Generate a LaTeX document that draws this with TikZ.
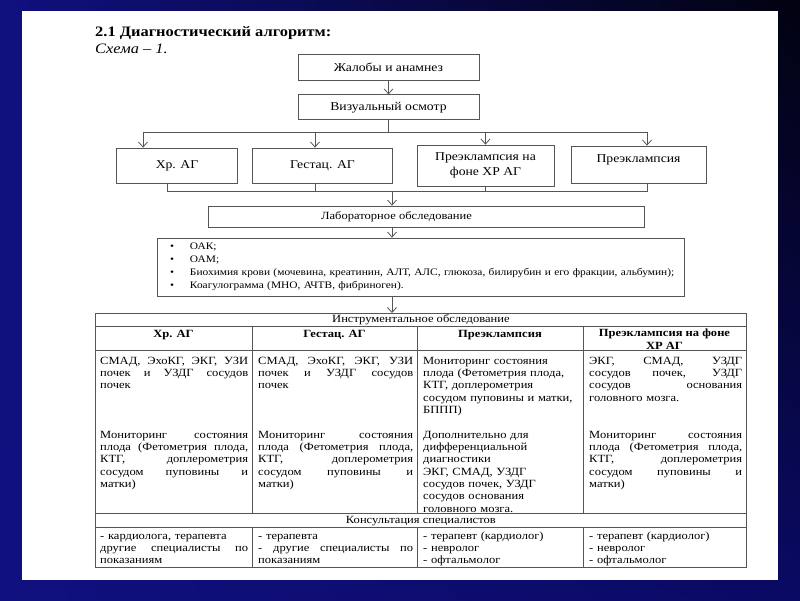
\documentclass[tikz,border=0pt]{standalone}
\usepackage{fontspec}
\setmainfont[FakeStretch=1.14]{Liberation Serif}
\usetikzlibrary{arrows.meta, positioning, shadings}

\definecolor{framegray}{RGB}{85,85,85}
\definecolor{navyleft}{RGB}{16,16,128}
\definecolor{navydark}{RGB}{2,2,16}
\definecolor{navylow}{RGB}{10,10,100}

% one justified line of a table cell
\newlength{\cellwidth}
\newcommand{\jline}[1]{{\spaceskip=0pt\xspaceskip=0pt\makebox[\cellwidth][s]{#1}}}

\begin{document}
\begin{tikzpicture}[
  x=1pt, y=-1pt,
  box/.style={rectangle, draw=framegray, line width=0.8pt, align=center,
             inner sep=2pt, font=\fontsize{12}{15}\selectfont},
  rowbox/.style={rectangle, draw=framegray, line width=0.8pt, inner sep=0pt,
             minimum width=651pt, minimum height=13pt, anchor=north west,
             font=\fontsize{11}{12}\selectfont},
  cell/.style={anchor=north west, text width=#1, text height=8pt, align=left, inner sep=0pt,
             font=\fontsize{11}{12.3}\selectfont,
             execute at begin node={\setlength{\cellwidth}{#1}}},
  headcell/.style={align=center, inner sep=0pt,
             font=\bfseries\fontsize{11}{12.5}\selectfont},
  arrow/.style={-{Straight Barb[length=5pt, width=9pt]}, draw=framegray, line width=0.8pt},
  link/.style={draw=framegray, line width=0.8pt}
]
% slide frame
\shade[upper left=navyleft, lower left=navyleft, upper right=navydark,
       lower right=navylow] (0,0) rectangle (800,600);
\fill[white] (22,11) rectangle (778,580);
\useasboundingbox (0,0) rectangle (800,600);

% heading
\node[anchor=base west, inner sep=0pt, font=\bfseries\fontsize{14.4}{17}\selectfont]
  (title) at (95,36) {2.1 Диагностический алгоритм:};
\node[anchor=base west, inner sep=0pt, font=\itshape\fontsize{14.4}{17}\selectfont]
  (scheme) at (95,53) {Схема – 1.};

% flow part
\node[box, minimum width=181pt, minimum height=26pt] (complaints) at (388.5,67) {Жалобы и анамнез};
\node[box, minimum width=181pt, minimum height=25pt, below=14pt of complaints] (exam) {Визуальный осмотр};

\node[box, minimum width=121pt, minimum height=35pt] (chr) at (177,165.5) {Хр. АГ};
\node[box, minimum width=140pt, minimum height=35pt] (gest) at (322.5,165.5) {Гестац. АГ};
\node[box, minimum width=137pt, minimum height=41pt] (preon) at (485.5,165.5) {Преэклампсия на\\фоне ХР АГ};
\node[box, minimum width=135pt, minimum height=37pt, text depth=12pt] (pre) at (638.5,164.5) {Преэклампсия};

\node[box, minimum width=436pt, minimum height=21pt, font=\fontsize{11}{12}\selectfont]
  (lab) at (426.5,216.5) {Лабораторное обследование\hspace*{60pt}};
\node[box, minimum width=527pt, minimum height=58pt, text width=513pt, align=left,
      inner sep=0pt, font=\fontsize{10}{13}\selectfont] (tests) at (420.5,267) {%
  \hspace*{6pt}\textbullet\hspace{16pt}ОАК;\\
  \hspace*{6pt}\textbullet\hspace{16pt}ОАМ;\\
  \hspace*{6pt}\textbullet\hspace{16pt}Биохимия крови (мочевина, креатинин, АЛТ, АЛС, глюкоза, билирубин и его фракции, альбумин);\\
  \hspace*{6pt}\textbullet\hspace{16pt}Коагулограмма (МНО, АЧТВ, фибриноген).};

\coordinate (split) at (388.5,132);
\coordinate (fork1) at (143,132);
\coordinate (fork4) at (647,132);
\coordinate (join1) at (167,191);
\coordinate (join4) at (647,191);
\coordinate (labin) at (392,191);

\draw[arrow] (complaints) -- (exam);
\draw[link] (exam) -- (split);
\draw[link] (fork1) -- (fork4);
\draw[arrow] (fork1) -- (fork1 |- chr.north);
\draw[arrow] (315,132) -- (315,0 |- gest.north);
\draw[arrow] (preon.north |- split) -- (preon.north);
\draw[arrow] (fork4) -- (fork4 |- pre.north);
\draw[link] (join1 |- chr.south) -- (join1) -- (join4) -- (join4 |- pre.south);
\draw[link] (315,0 |- gest.south) -- (315,191);
\draw[link] (preon.south) -- (preon.south |- join1);
\draw[arrow] (labin) -- (labin |- lab.north);
\draw[arrow] (labin |- lab.south) -- (labin |- tests.north);

% table of instrumental examination
\node[rowbox] (instr) at (95,313) {Инструментальное обследование};
\draw[arrow] (labin |- tests.south) -- (labin |- instr.north);
\draw[link] (instr.south west) rectangle (746,567);
\draw[link] (95,350) -- (746,350);
\node[rowbox, minimum height=14pt, text depth=1pt] (consult) at (95,513) {Консультация специалистов};
\foreach \cx in {252,417,583} {
  \draw[link] (\cx,326) -- (\cx,513);
  \draw[link] (\cx,527) -- (\cx,567);
}

\node[headcell] (hchr) at (173.5,335) {Хр. АГ};
\node[headcell] (hgest) at (334.5,335) {Гестац. АГ};
\node[headcell] (hpre) at (500,335) {Преэклампсия};
\node[headcell] (hpreon) at (664.5,339) {Преэклампсия на фоне\\ХР АГ};

% cells
\node[cell=148pt] (c1a) at (100,356) {\jline{СМАД, ЭхоКГ, ЭКГ, УЗИ}\\\jline{почек и УЗДГ сосудов}\\почек};
\node[cell=148pt] (c1b) at (100,430) {\jline{Мониторинг состояния}\\\jline{плода (Фетометрия плода,}\\\jline{КТГ, доплерометрия}\\\jline{сосудом пуповины и}\\матки)};
\node[cell=155pt] (c2a) at (258,356) {\jline{СМАД, ЭхоКГ, ЭКГ, УЗИ}\\\jline{почек и УЗДГ сосудов}\\почек};
\node[cell=155pt] (c2b) at (258,430) {\jline{Мониторинг состояния}\\\jline{плода (Фетометрия плода,}\\\jline{КТГ, доплерометрия}\\\jline{сосудом пуповины и}\\матки)};
\node[cell=156pt] (c3a) at (423,356) {Мониторинг состояния\\плода (Фетометрия плода,\\КТГ, доплерометрия\\сосудом пуповины и матки,\\БППП)};
\node[cell=156pt] (c3b) at (423,430) {Дополнительно для\\дифференциальной\\диагностики\\ЭКГ, СМАД, УЗДГ\\сосудов почек, УЗДГ\\сосудов основания\\головного мозга.};
\node[cell=153pt] (c4a) at (589,356) {\jline{ЭКГ, СМАД, УЗДГ}\\\jline{сосудов почек, УЗДГ}\\\jline{сосудов основания}\\головного мозга.};
\node[cell=153pt] (c4b) at (589,430) {\jline{Мониторинг состояния}\\\jline{плода (Фетометрия плода,}\\\jline{КТГ, доплерометрия}\\\jline{сосудом пуповины и}\\матки)};

\node[cell=148pt] (d1) at (100,531) {- кардиолога, терапевта\\\jline{другие специалисты по}\\показаниям};
\node[cell=155pt] (d2) at (258,531) {- терапевта\\\jline{- другие специалисты по}\\показаниям};
\node[cell=156pt] (d3) at (423,531) {- терапевт (кардиолог)\\- невролог\\- офтальмолог};
\node[cell=153pt] (d4) at (589,531) {- терапевт (кардиолог)\\- невролог\\- офтальмолог};

\end{tikzpicture}
\end{document}
